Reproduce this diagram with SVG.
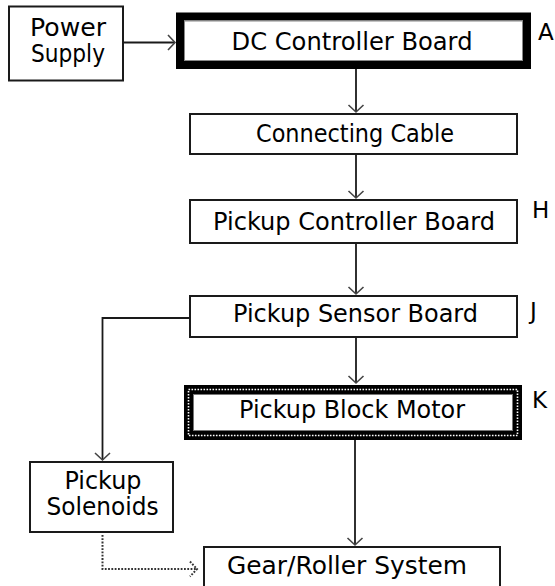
<svg xmlns="http://www.w3.org/2000/svg" width="555" height="586" viewBox="0 0 555 586">
  <defs>
    <style>
      .box { fill: #ffffff; stroke: #1a1a1a; stroke-width: 2; }
      .lbl { font-family: "DejaVu Sans", "Liberation Sans", sans-serif; font-size: 24px; fill: #000; text-anchor: middle; }
      .tag { font-family: "DejaVu Sans", "Liberation Sans", sans-serif; font-size: 23px; fill: #000; }
      .wire { fill: none; stroke: #1a1a1a; stroke-width: 1.8; }
      .dot { fill: none; stroke: #333; stroke-width: 2; stroke-dasharray: 1.8 1.5; }
    </style>
    <marker id="arr" markerUnits="userSpaceOnUse" orient="auto" overflow="visible" markerWidth="1" markerHeight="1" refX="0" refY="0">
      <path d="M-7,-7.5 L0,0 L-7,7.5" fill="none" stroke="#444" stroke-width="1.6"/>
    </marker>
    <marker id="arrDot" markerUnits="userSpaceOnUse" orient="auto" overflow="visible" markerWidth="1" markerHeight="1" refX="0" refY="0">
      <path d="M-7,-7.5 L0,0 L-7,7.5" fill="none" stroke="#333" stroke-width="2" stroke-dasharray="1.8 1.5"/>
    </marker>
  </defs>
  <rect width="555" height="586" fill="#ffffff"/>

  <g id="connectors">
    <line class="wire" x1="123" y1="42.5" x2="175" y2="42.5" marker-end="url(#arr)"/>
    <line class="wire" x1="356" y1="69" x2="356" y2="112" marker-end="url(#arr)"/>
    <line class="wire" x1="356" y1="154" x2="356" y2="198" marker-end="url(#arr)"/>
    <line class="wire" x1="356" y1="243" x2="356" y2="294" marker-end="url(#arr)"/>
    <line class="wire" x1="356" y1="337" x2="356" y2="383" marker-end="url(#arr)"/>
    <line class="wire" x1="355" y1="440" x2="355" y2="545" marker-end="url(#arr)"/>
    <polyline class="wire" points="190,318 102.5,318 102.5,460" marker-end="url(#arr)"/>
    <polyline class="dot" points="102.5,535 102.5,569 197,569" marker-end="url(#arrDot)"/>
  </g>

  <g id="power-supply">
    <rect class="box" x="9" y="6.5" width="114" height="74"/>
    <text class="lbl" x="68" y="36" textLength="76" lengthAdjust="spacingAndGlyphs">Power</text>
    <text class="lbl" x="68" y="62" textLength="74" lengthAdjust="spacingAndGlyphs">Supply</text>
  </g>

  <g id="dc-controller-board">
    <rect x="180" y="16.5" width="347" height="48.5" fill="#ffffff" stroke="#000" stroke-width="8"/>
    <rect x="184.5" y="21" width="338" height="39.5" fill="none" stroke="#888" stroke-width="1"/>
    <text class="lbl" x="352" y="50" textLength="241" lengthAdjust="spacingAndGlyphs">DC Controller Board</text>
    <text class="tag" x="538" y="40">A</text>
  </g>

  <g id="connecting-cable">
    <rect class="box" x="190" y="114" width="327" height="40"/>
    <text class="lbl" x="355" y="141.7" textLength="198" lengthAdjust="spacingAndGlyphs">Connecting Cable</text>
  </g>

  <g id="pickup-controller-board">
    <rect class="box" x="190" y="200" width="327" height="43"/>
    <text class="lbl" x="354" y="230" textLength="282" lengthAdjust="spacingAndGlyphs">Pickup Controller Board</text>
    <text class="tag" x="532" y="218">H</text>
  </g>

  <g id="pickup-sensor-board">
    <rect class="box" x="190" y="296" width="327" height="41"/>
    <text class="lbl" x="355.5" y="322" textLength="245" lengthAdjust="spacingAndGlyphs">Pickup Sensor Board</text>
    <text class="tag" x="530" y="319">J</text>
  </g>

  <g id="pickup-block-motor">
    <rect x="188.5" y="389.5" width="329" height="46" fill="#ffffff" stroke="#000" stroke-width="9"/>
    <rect x="188.5" y="389.5" width="329" height="46" fill="none" stroke="#ffffff" stroke-width="1.6" stroke-dasharray="1.6 1.4"/>
    <rect x="193.5" y="394.5" width="319" height="36" fill="none" stroke="#777" stroke-width="1"/>
    <text class="lbl" x="352" y="418" textLength="226" lengthAdjust="spacingAndGlyphs">Pickup Block Motor</text>
    <text class="tag" x="532" y="408">K</text>
  </g>

  <g id="pickup-solenoids">
    <rect class="box" x="30" y="462" width="143" height="70"/>
    <text class="lbl" x="103" y="489.3" textLength="77" lengthAdjust="spacingAndGlyphs">Pickup</text>
    <text class="lbl" x="102.5" y="515" textLength="112" lengthAdjust="spacingAndGlyphs">Solenoids</text>
  </g>

  <g id="gear-roller-system">
    <rect class="box" x="204" y="547" width="296" height="42"/>
    <text class="lbl" x="347" y="573.5" textLength="240" lengthAdjust="spacingAndGlyphs">Gear/Roller System</text>
  </g>
</svg>
